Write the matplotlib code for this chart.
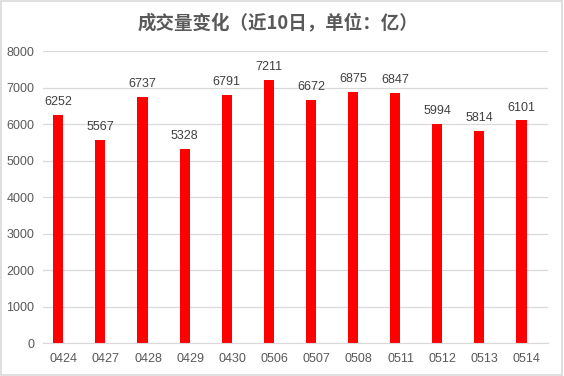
import matplotlib
matplotlib.use("Agg")
import matplotlib.pyplot as plt
from matplotlib.patches import Rectangle
import numpy as np

# data
dates = ["0424", "0427", "0428", "0429", "0430", "0506",
         "0507", "0508", "0511", "0512", "0513", "0514"]
volumes = [6252, 5567, 6737, 5328, 6791, 7211,
           6672, 6875, 6847, 5994, 5814, 6101]
y_ticks = [0, 1000, 2000, 3000, 4000, 5000, 6000, 7000, 8000]
title = "成交量变化（近10日，单位：亿）"

plt.rcParams["font.family"] = ["Liberation Sans", "DejaVu Sans"]

fig = plt.figure(figsize=(5.64, 3.76), dpi=100)
ax = fig.add_axes([0.0757, 0.087, 0.8959, 0.777])

x = np.arange(len(dates))
# bars sit a little left of the category centre, as in the source chart
bar_x = x - 0.13
ax.bar(bar_x, volumes, width=0.24, color="#FF0000", zorder=3)

for bx, v in zip(bar_x, volumes):
    ax.annotate(str(v), (bx, v), xytext=(0, 5), textcoords="offset points",
                ha="center", va="bottom", fontsize=9, color="#404040")

ax.set_xlim(-0.5, len(dates) - 0.5)
ax.set_ylim(0, 8000)
ax.set_yticks(y_ticks)
ax.set_xticks(x)
ax.set_xticklabels(dates)
ax.tick_params(length=0, labelsize=9, colors="#595959")
ax.tick_params(axis="x", pad=7)
ax.tick_params(axis="y", pad=6)
ax.grid(axis="y", color="#D9D9D9", linewidth=0.9, zorder=0)
for side in ["top", "right", "left"]:
    ax.spines[side].set_visible(False)
ax.spines["bottom"].set_color("#D9D9D9")
ax.spines["bottom"].set_zorder(4)

fig.text(0.493, 0.937, title, ha="center", va="center", fontsize=13.3,
         fontweight="bold", color="#595959",
         family=["Noto Sans CJK SC", "DejaVu Sans"])

# light frame around the whole chart
fig.patches.append(Rectangle((0.002, 0.003), 0.995, 0.994, transform=fig.transFigure,
                             fill=False, edgecolor="#D9D9D9", linewidth=1.2))

fig.savefig("out.png", dpi=100)
